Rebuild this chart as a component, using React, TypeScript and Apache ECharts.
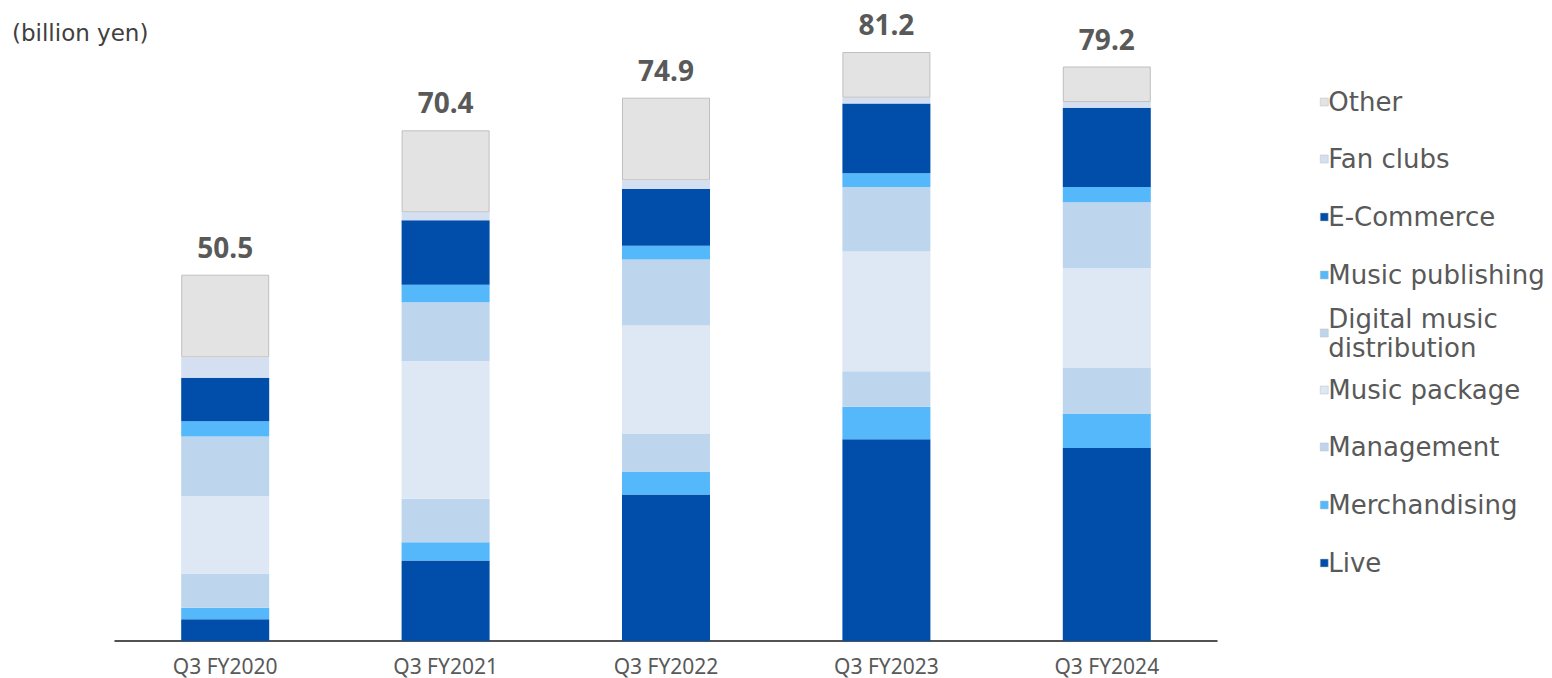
import React, { useEffect, useRef } from "react";
import * as echarts from "echarts";

// Quarterly revenue by segment (billion yen)
const categories = ["Q3 FY2020", "Q3 FY2021", "Q3 FY2022", "Q3 FY2023", "Q3 FY2024"];
const totals = [50.5, 70.4, 74.9, 81.2, 79.2];

const live = [3.0, 11.1, 20.2, 27.8, 26.6];
const merchandising = [1.6, 2.5, 3.1, 4.5, 4.7];
const management = [4.7, 6.0, 5.3, 4.9, 6.4];
const musicPackage = [10.7, 19.0, 14.9, 16.5, 13.7];
const digitalMusic = [8.2, 8.1, 9.1, 8.9, 9.1];
const musicPublishing = [2.1, 2.4, 1.9, 1.9, 2.1];
const eCommerce = [6.0, 8.9, 7.8, 9.6, 10.9];
const fanClubs = [2.8, 1.1, 1.2, 0.8, 0.8];
const other = [11.4, 11.3, 11.4, 6.3, 4.9];

const segmentNames = [
  "Live",
  "Merchandising",
  "Management",
  "Music package",
  "Digital music\ndistribution",
  "Music publishing",
  "E-Commerce",
  "Fan clubs",
  "Other",
];

const segmentValues = [
  live,
  merchandising,
  management,
  musicPackage,
  digitalMusic,
  musicPublishing,
  eCommerce,
  fanClubs,
  other,
];

const segmentColors = [
  "#004DAA",
  "#55B8FA",
  "#BDD6EE",
  "#DDE8F4",
  "#BDD6EE",
  "#55B8FA",
  "#004DAA",
  "#D5DFF2",
  "#E3E3E3",
];

const FONT = "'Noto Sans', 'Noto Sans CJK JP', sans-serif";
const WIDE_FONT = "'DejaVu Sans', 'Noto Sans', sans-serif";
const TEXT_COLOR = "#595959";

// Legend rows, listed top to bottom (vertical centre of each entry)
const legendOrder = [8, 7, 6, 5, 4, 3, 2, 1, 0];
const legendCenters = [102, 159, 217, 275, 333, 390, 447, 505, 563];
const LEGEND_LINE = 29;

export default function App() {
  const ref = useRef<HTMLDivElement>(null);

  useEffect(() => {
    if (!ref.current) return;
    const chart = echarts.init(ref.current, null, { renderer: "svg" });

    const series = segmentNames.map((name, i) => ({
      name,
      type: "bar",
      stack: "total",
      barWidth: 88,
      data: segmentValues[i],
      itemStyle: {
        color: segmentColors[i],
        borderColor: i === 8 ? "#BFBFBF" : segmentColors[i],
        borderWidth: i === 8 ? 1 : 0,
      },
      emphasis: { disabled: true },
      label:
        i === 8
          ? {
              show: true,
              position: "top",
              distance: 14,
              formatter: (p: any) => totals[p.dataIndex].toFixed(1),
              fontFamily: FONT,
              fontSize: 28,
              fontWeight: "bold",
              color: TEXT_COLOR,
            }
          : { show: false },
    }));

    const legends = legendOrder.map((si, row) => {
      const name = segmentNames[si];
      const lines = name.split("\n").length;
      return {
        data: [name],
        orient: "vertical",
        left: 1320,
        top: legendCenters[row] - (lines * LEGEND_LINE) / 2,
        padding: 0,
        itemWidth: 8,
        itemHeight: 8,
        icon: "rect",
        selectedMode: false,
        itemStyle: { borderColor: "#BFBFBF", borderWidth: 0.5 },
        textStyle: {
          fontFamily: WIDE_FONT,
          fontSize: 26,
          lineHeight: LEGEND_LINE,
          color: TEXT_COLOR,
          padding: [0, 0, 0, -5],
        },
      };
    });

    chart.setOption({
      animation: false,
      backgroundColor: "#FFFFFF",
      grid: { left: 115, right: 335, top: 52, bottom: 37, containLabel: false },
      legend: legends,
      graphic: [
        {
          type: "text",
          left: 12,
          top: 21,
          style: {
            text: "(billion yen)",
            fontFamily: WIDE_FONT,
            fontSize: 23,
            fill: "#404040",
          },
        },
      ],
      xAxis: {
        type: "category",
        data: categories,
        axisTick: { show: false },
        axisLine: { lineStyle: { color: "#1A1A1A", width: 1.5 } },
        axisLabel: {
          fontFamily: FONT,
          fontSize: 21,
          color: TEXT_COLOR,
          margin: 14,
        },
      },
      yAxis: {
        type: "value",
        min: 0,
        max: 81.2,
        show: false,
        splitLine: { show: false },
      },
      series,
    });

    return () => chart.dispose();
  }, []);

  return (
    <div
      ref={ref}
      style={{ position: "absolute", left: 0, top: 0, width: 1552, height: 678 }}
    />
  );
}
